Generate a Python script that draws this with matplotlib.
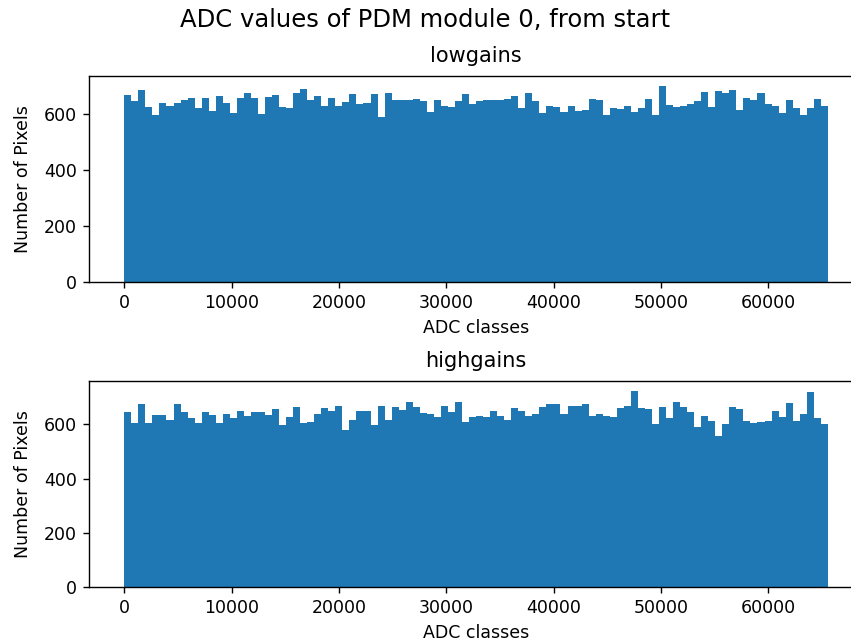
import matplotlib
matplotlib.use("Agg")
import matplotlib.pyplot as plt
import numpy as np

# counts per ADC class (100 bins over 0..65535)
lowgains = [667, 647, 687, 624, 597, 638, 630, 639, 651, 656,
            621, 658, 612, 663, 639, 603, 656, 674, 658, 602,
            661, 667, 624, 621, 674, 691, 650, 663, 630, 658,
            630, 643, 672, 635, 639, 672, 588, 677, 651, 651,
            651, 653, 645, 608, 650, 630, 627, 645, 671, 635,
            645, 651, 651, 651, 653, 663, 621, 674, 645, 603,
            630, 624, 608, 630, 612, 615, 653, 650, 597, 621,
            618, 630, 608, 621, 653, 597, 701, 634, 627, 630,
            635, 645, 679, 627, 683, 674, 687, 615, 659, 650,
            674, 635, 630, 603, 650, 621, 597, 621, 653, 630]

highgains = [647, 604, 675, 604, 634, 634, 616, 675, 647, 622,
             606, 647, 634, 606, 640, 622, 650, 631, 644, 647,
             634, 655, 597, 626, 665, 604, 610, 640, 659, 650,
             669, 581, 616, 649, 649, 597, 669, 616, 665, 652,
             683, 665, 643, 638, 626, 669, 644, 683, 610, 626,
             631, 626, 649, 631, 616, 659, 649, 631, 637, 665,
             675, 675, 640, 669, 669, 675, 631, 637, 631, 626,
             659, 669, 724, 659, 655, 601, 665, 622, 683, 665,
             644, 591, 631, 613, 556, 601, 665, 655, 613, 606,
             610, 613, 650, 626, 680, 613, 637, 721, 622, 601]

edges = np.linspace(0, 65535, len(lowgains) + 1)

fig = plt.figure(figsize=(851 / 125, 642 / 125), dpi=125)
fig.suptitle("ADC values of PDM module 0, from start", fontsize=14, y=0.987)

ax1 = fig.add_axes([0.1047, 0.5607, 0.9094, 0.3209])
ax2 = fig.add_axes([0.1047, 0.0857, 0.9094, 0.3209])

for ax, counts, name in [(ax1, lowgains, "lowgains"), (ax2, highgains, "highgains")]:
    ax.bar(edges[:-1], counts, width=np.diff(edges), align="edge", color="C0", linewidth=0)
    ax.set_title(name, pad=8)
    ax.set_xlabel("ADC classes")
    ax.set_ylabel("Number of Pixels", labelpad=7)
    ax.set_yticks([0, 200, 400, 600])

fig.savefig("out.png", dpi=125)
